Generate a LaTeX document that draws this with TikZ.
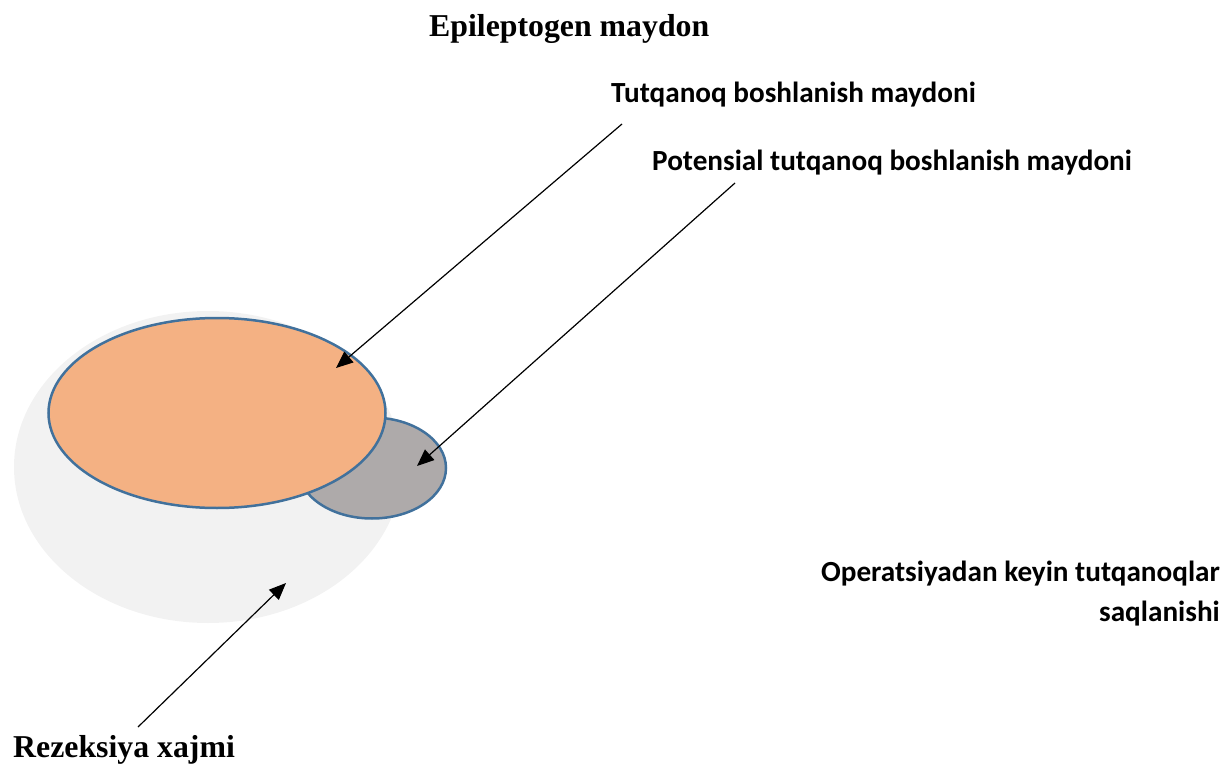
\documentclass[tikz,border=0pt]{standalone}
\usepackage{fontspec}
\setmainfont{Liberation Serif}
\newfontfamily\calibri{Carlito}
\usepackage{tikz}
\usetikzlibrary{arrows.meta,shapes.geometric}

\definecolor{zonefill}{HTML}{F4B183}
\definecolor{zoneedge}{HTML}{41719C}
\definecolor{potfill}{HTML}{AEAAAA}
\definecolor{resfill}{HTML}{F2F2F2}

\begin{document}
\begin{tikzpicture}[x=1pt, y=-1pt,
  zone/.style={ellipse, draw=zoneedge, line width=2.5pt, inner sep=0pt},
  serifhead/.style={font=\fontsize{31.8}{38}\selectfont\bfseries, inner sep=0pt},
  sanslabel/.style={font=\fontsize{29.2}{40}\selectfont\calibri\bfseries, inner sep=0pt},
  pointer/.style={-{Triangle[length=17pt, width=14pt]}, line width=1.2pt}
]
\useasboundingbox (0,0) rectangle (1224,765);
% ellipses
\node[ellipse, fill=resfill, minimum width=388pt, minimum height=312pt] (resection) at (208,467) {};
\node[zone, fill=potfill, minimum width=148pt, minimum height=101pt] (potential) at (372,468) {};
\node[zone, fill=zonefill, minimum width=337pt, minimum height=190pt] (onset) at (217,413) {};
% labels
\node[serifhead, anchor=base west] (epi) at (429,37) {Epileptogen maydon};
\node[sanslabel, anchor=base west] (onsetlbl) at (611,103) {Tutqanoq boshlanish maydoni};
\node[sanslabel, anchor=base west] (potlbl) at (652,171) {Potensial tutqanoq boshlanish maydoni};
\node[sanslabel, anchor=base east, align=right] (post) at (1220,621) {Operatsiyadan keyin tutqanoqlar\\saqlanishi};
\node[serifhead, anchor=base west] (reslbl) at (13,757) {Rezeksiya xajmi};
% arrows
\coordinate (onsettail) at (622,124);
\coordinate (onsettip) at (336,368);
\coordinate (pottail) at (735,183);
\coordinate (pottip) at (417,466);
\coordinate (restail) at (138,727);
\coordinate (restip) at (286,583);
\draw[pointer] (onsettail) -- (onsettip);
\draw[pointer] (pottail) -- (pottip);
\draw[pointer] (restail) -- (restip);
\end{tikzpicture}
\end{document}
